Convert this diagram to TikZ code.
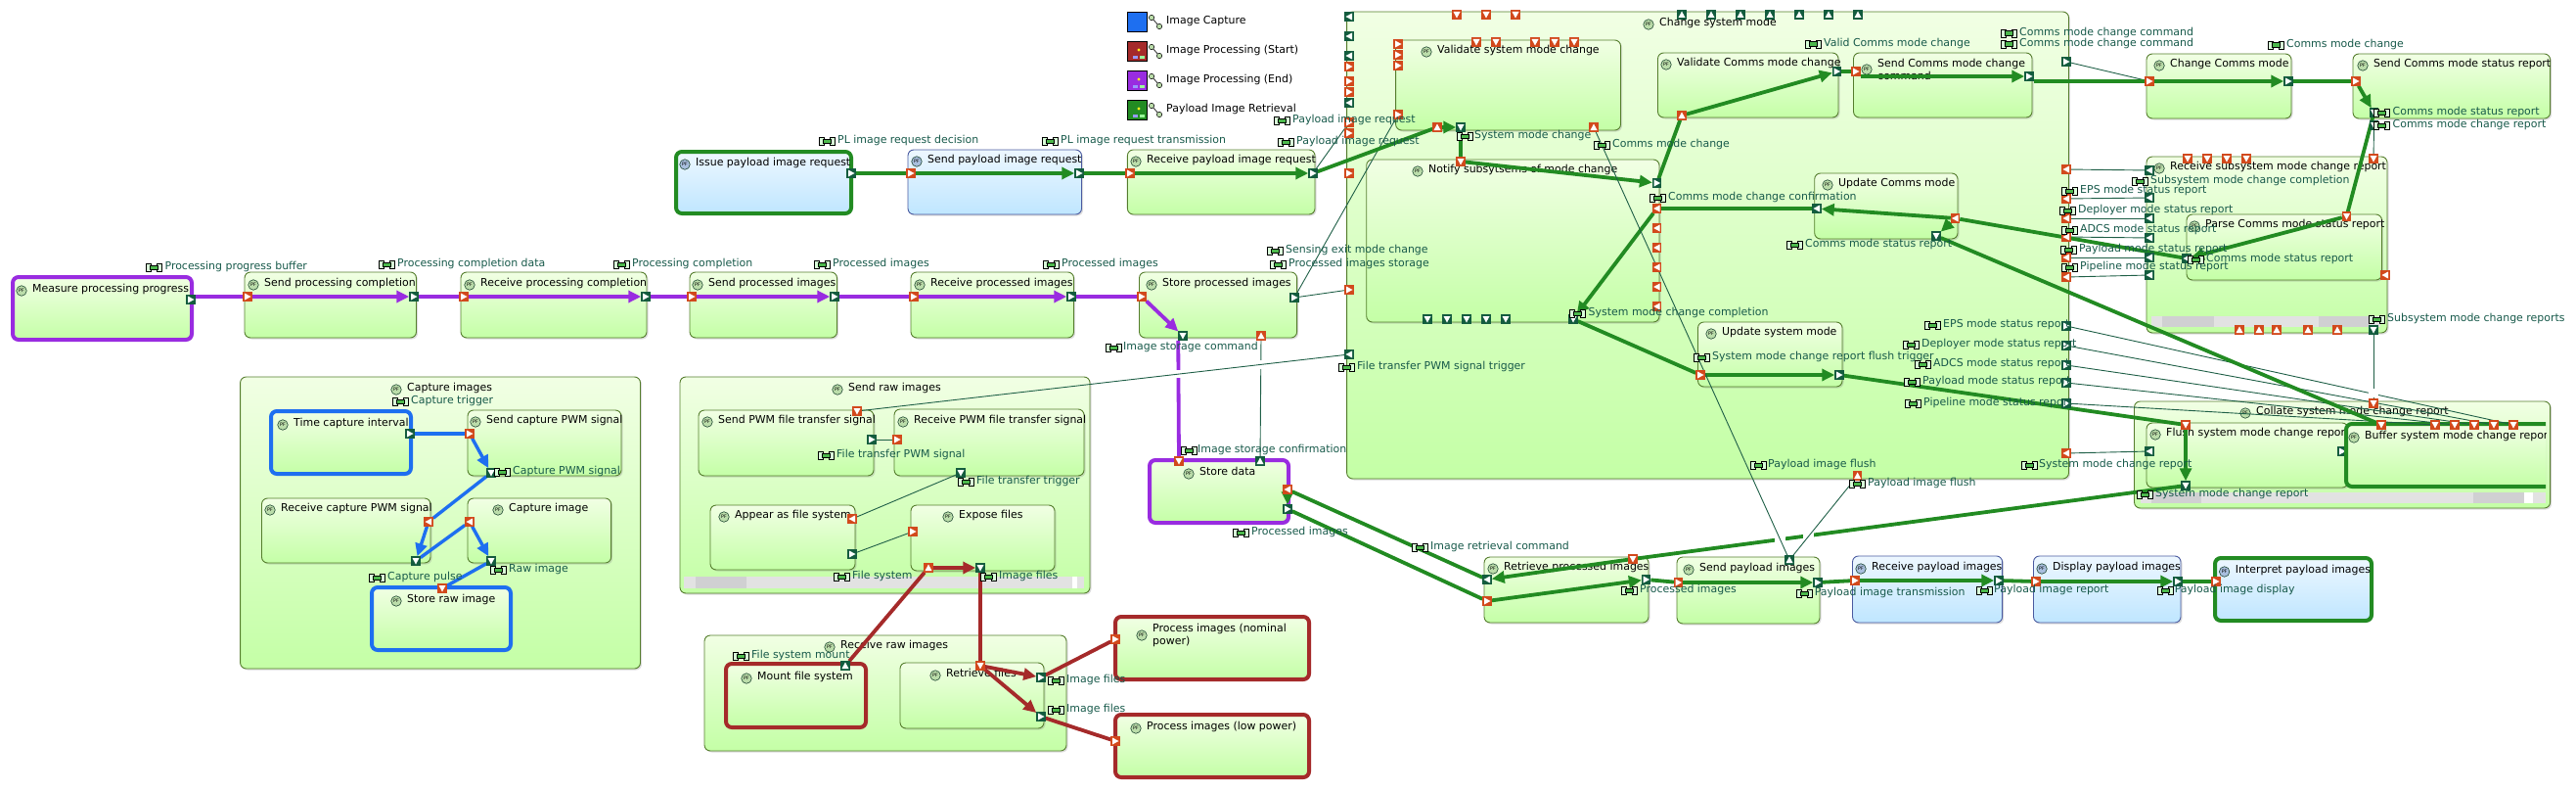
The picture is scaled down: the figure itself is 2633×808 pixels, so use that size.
\documentclass[tikz,border=0pt]{standalone}
\usepackage{fontspec}
\setmainfont{DejaVu Sans}
\usetikzlibrary{arrows.meta,shadows}
\definecolor{purp}{HTML}{992CE0}
\definecolor{grn}{HTML}{228B22}
\definecolor{rd}{HTML}{A52A2A}
\definecolor{blu}{HTML}{1E6FF0}
\definecolor{pO}{HTML}{D2491C}
\definecolor{pG}{HTML}{135C3E}
\definecolor{thin}{HTML}{1F5F47}
\definecolor{lbl}{HTML}{17594A}
\definecolor{pfg}{HTML}{BBDDAA}
\definecolor{pfb}{HTML}{A8BEDD}
\definecolor{edgeg}{HTML}{557D2D}
\definecolor{edgeb}{HTML}{4A5AA0}
\definecolor{gtop}{HTML}{F1FFE4}
\definecolor{gbot}{HTML}{C4FFA6}
\definecolor{btop}{HTML}{EDF7FF}
\definecolor{bbot}{HTML}{BFE6FF}
\definecolor{sbar}{HTML}{E2E2E2}
\definecolor{sthumb}{HTML}{D0D0D2}
\pgfdeclarelayer{lines}
\pgfdeclarelayer{top}
\pgfsetlayers{main,lines,top}
\newcounter{lbc}
\newcommand\fnt{\fontsize{10.95}{13}\selectfont}
\tikzset{
 base/.style={rectangle,rounded corners=6pt,inner sep=0pt,outer sep=0pt,line width=0.9pt,
   drop shadow={opacity=.28,shadow xshift=1.5pt,shadow yshift=-1.5pt}},
 gbox/.style={base,draw=edgeg,top color=gtop,bottom color=gbot},
 bbox/.style={base,draw=edgeb,top color=btop,bottom color=bbot},
 ttl/.style={inner sep=0pt,anchor=west,font=\fnt,text=black,text height=8pt,text depth=2.5pt},
 lab/.style={inner sep=0pt,anchor=west,font=\fnt,text=lbl,text height=8pt,text depth=2.5pt},
 pfc/.style={circle,draw={rgb,255:red,30;green,70;blue,50},line width=.6pt,minimum size=10.5pt,inner sep=0pt,
   font=\fontsize{4.8}{5}\selectfont,text=black},
 portbox/.style={rectangle,minimum size=9.5pt,inner sep=0pt,outer sep=0pt},
 thinl/.style={draw=thin,line width=.9pt},
 gl/.style={draw=grn,line width=3.8pt},
 pl/.style={draw=purp,line width=3.8pt},
 rl/.style={draw=rd,line width=3.8pt},
 bl/.style={draw=blu,line width=3.4pt},
 ah/.style={-{Triangle[length=13pt,width=12pt]}},
 scrollbar/.style={fill=sbar,draw=none},
 scrollthumb/.style={fill=sthumb,draw=none},
}
\def\pffill{pfg}
\newcommand\bx[9]{%
 \node[#2,minimum width={(#5-#3)*1pt},minimum height={(#6-#4)*1pt}] (#1) at ({(#3+#5)/2},{(#4+#6)/2}) {};
 \node[pfc,fill=\pffill] (#1-pf) at (#7,#8) {PF};
 \node[ttl] (#1-t) at (#7+11,#8-1) {#9};}
\newcommand\bxb[9]{\def\pffill{pfb}\bx{#1}{#2}{#3}{#4}{#5}{#6}{#7}{#8}{#9}\def\pffill{pfg}}
\newcommand\triR[2]{\fill[white] (#1-3,#2-3.5) -- (#1+3.5,#2) -- (#1-3,#2+3.5) -- cycle;}
\newcommand\triL[2]{\fill[white] (#1+3,#2-3.5) -- (#1-3.5,#2) -- (#1+3,#2+3.5) -- cycle;}
\newcommand\triD[2]{\fill[white] (#1-3.5,#2-3) -- (#1+3.5,#2-3) -- (#1,#2+3.5) -- cycle;}
\newcommand\triU[2]{\fill[white] (#1-3.5,#2+3) -- (#1+3.5,#2+3) -- (#1,#2-3.5) -- cycle;}
\newcommand\pt[5]{\node[portbox,fill=#4] (#1) at (#2,#3) {}; \csname tri#5\endcsname{#2}{#3}}
\newcommand\lb[4]{\stepcounter{lbc}%
 \filldraw[draw=black,fill=green!15!white,line width=.8pt] (#1,#3-4) rectangle (#1+5,#3+4);
 \filldraw[draw=black,fill=green!15!white,line width=.8pt] (#1+11,#3-4) rectangle (#1+16,#3+4);
 \filldraw[draw=black,fill=green!60!black!70,line width=.6pt] (#1+4,#3-2.2) rectangle (#1+12,#3+2.2);
 \node[lab] (lb\thelbc) at (#2,#3) {#4};}
\newcommand\legendrow[5]{%
 \node[rectangle,draw=black,line width=.8pt,fill=#3,minimum width=20pt,minimum height=20pt,inner sep=0pt] (#1) at (1162,#2) {};
 #5
 \draw[black,line width=.6pt] (1177,#2-4) -- (1185,#2+5);
 \filldraw[draw=black,fill=pfg,line width=.5pt] (1177,#2-4) circle (2.7pt);
 \filldraw[draw=black,fill=pfg,line width=.5pt] (1185,#2+5) circle (2.7pt);
 \node[ttl] (#1-t) at (1192,#2) {#4};}
\newcommand\glyph[1]{%
 \fill[yellow!90!white] (1164,#1-1) circle (1.6pt);
 \fill[white!60!blue] (1158,#1+5) rectangle (1163,#1+8);
 \fill[white!60!green] (1165,#1+5) rectangle (1170,#1+8);}
\begin{document}
\begin{tikzpicture}[x=1pt,y=-1pt]
\useasboundingbox (0,0) rectangle (2633,808);
% legend
\legendrow{lg1}{22}{blu}{Image Capture}{}
\legendrow{lg2}{52}{rd}{Image Processing (Start)}{\glyph{52}}
\legendrow{lg3}{82}{purp}{Image Processing (End)}{\glyph{82}}
\legendrow{lg4}{112}{grn}{Payload Image Retrieval}{\glyph{112}}
% top rows
\bx{measure}{gbox,draw=purp,line width=4pt}{13}{283}{196}{347}{22}{297}{Measure processing progress}
\bx{sendpc}{gbox}{250}{278}{425.5}{345}{259}{291}{Send processing completion}
\bx{recvpc}{gbox}{471}{278}{661}{345}{480}{291}{Receive processing completion}
\bx{sendpi}{gbox}{705}{278}{855.5}{345}{713}{291}{Send processed images}
\bx{recvpi}{gbox}{931}{278}{1097.5}{345}{940}{291}{Receive processed images}
\bx{storepi}{gbox}{1164.5}{278}{1325.6}{345}{1177}{291}{Store processed images}
\bxb{issue}{bbox,draw=grn,line width=4pt}{691}{155}{870}{218}{700}{168}{Issue payload image request}
\bxb{sendreq}{bbox}{928}{153}{1105.5}{219}{937}{165}{Send payload image request}
\bx{recvreq}{gbox}{1152.4}{153}{1344}{219}{1161}{165}{Receive payload image request}
% capture images
\bx{capture}{gbox}{245.6}{385}{654.5}{683}{405}{398}{Capture images}
\bx{timeci}{gbox,draw=blu,line width=4pt}{277}{420}{420}{484}{289}{434}{Time capture interval}
\bx{sendcap}{gbox}{478}{419}{635}{486}{486}{431}{Send capture PWM signal}
\bx{recvcap}{gbox}{267.5}{509}{440}{575}{276}{521}{Receive capture PWM signal}
\bx{capimg}{gbox}{478}{509}{624.6}{575}{509}{521}{Capture image}
\bx{storeraw}{gbox,draw=blu,line width=4pt}{380}{600}{522}{664}{405}{614}{Store raw image}
% send raw images
\bx{sendraw}{gbox}{695}{385}{1114}{606}{856}{398}{Send raw images}
\fill[scrollbar] (699,589) rectangle (1108,601);
\fill[scrollthumb] (711,589) rectangle (763,601);
\fill[white] (1096,589) rectangle (1101,601);
\bx{sendpwm}{gbox}{714}{419}{893}{486}{723}{431}{Send PWM file transfer signal}
\bx{recvpwm}{gbox}{914}{418}{1108}{486}{923}{431}{Receive PWM file transfer signal}
\bx{appear}{gbox}{726}{516}{874}{582}{740}{528}{Appear as file system}
\bx{expose}{gbox}{931}{516}{1078}{583}{969}{528}{Expose files}
% receive raw images
\bx{recvraw}{gbox}{720}{649}{1090}{767}{848}{661}{Receive raw images}
\bx{mount}{gbox,draw=rd,line width=4pt}{742}{678}{885}{743}{763}{693}{Mount file system}
\bx{retrieve}{gbox}{920}{677}{1067}{744}{956}{690}{Retrieve files}
\bx{pnom}{gbox,draw=rd,line width=4pt}{1140}{630}{1338}{694}{1167}{649}{}
\node[ttl,text height=,text depth=,align=left] (pnom-txt) at (1178,649) {Process images (nominal\\power)};
\bx{plow}{gbox,draw=rd,line width=4pt}{1140}{730}{1338}{794}{1161}{744}{Process images (low power)}
% store data
\bx{storedata}{gbox,draw=purp,line width=4pt}{1175}{470}{1317}{534}{1215}{484}{Store data}
% change system mode
\bx{csm}{gbox}{1376.6}{12}{2114.5}{489}{1685}{25}{Change system mode}
\bx{valsys}{gbox}{1426.6}{41}{1656.5}{133}{1458}{53}{Validate system mode change}
\bx{notify}{gbox}{1396.7}{163}{1696}{329}{1449}{175}{Notify subsytsems of mode change}
\bx{valcom}{gbox}{1694.5}{54}{1879}{120}{1703}{66}{Validate Comms mode change}
\bx{sendcom}{gbox}{1894.5}{54}{2077}{120}{1908}{71}{}
\node[ttl,text height=,text depth=,align=left] (sendcom-txt) at (1919,70.5) {Send Comms mode change\\command};
\bx{updcom}{gbox}{1854.7}{177}{2001}{244}{1868}{189}{Update Comms mode}
\bx{updsys}{gbox}{1735.5}{329}{1883}{395}{1749}{341}{Update system mode}
% comms
\bx{chgcom}{gbox}{2194}{55}{2342}{121}{2207}{67}{Change Comms mode}
\bx{sendstat}{gbox}{2405}{55}{2606.6}{121}{2415}{67}{Send Comms mode status report}
\bx{recvsub}{gbox}{2194}{160}{2440}{340}{2207}{172}{Receive subsystem mode change report}
\fill[scrollbar] (2199,323) rectangle (2433,334);
\fill[scrollthumb] (2210,323) rectangle (2263,334);
\fill[scrollthumb] (2370,323) rectangle (2422,334);
\bx{parse}{gbox}{2235}{219}{2434.5}{286}{2243}{231}{Parse Comms mode status report}
% collate
\bx{collate}{gbox}{2181.5}{410}{2606.6}{519}{2295}{422}{Collate system mode change report}
\fill[scrollbar] (2187.5,503) rectangle (2601.6,514);
\fill[scrollthumb] (2199,503) rectangle (2250,514);
\fill[scrollthumb] (2528,503) rectangle (2580,514);
\fill[white] (2580,503) rectangle (2589,514);
\bx{flush}{gbox}{2194}{432}{2400}{498}{2203}{444}{Flush system mode change report}
\pt{flr}{2394}{461}{pG}{R}
\begin{scope}
\clip (2380,425) rectangle (2602,505);
\bx{buffer}{gbox,draw=grn,line width=4pt}{2398}{433}{2640}{497}{2406}{447}{Buffer system mode change report}
\end{scope}
% bottom chain
\bx{retrpi}{gbox}{1517}{569}{1685}{636}{1526}{581}{Retrieve processed images}
\bx{sendpl}{gbox}{1714}{569}{1860}{637}{1726}{582}{Send payload images}
\bxb{recvpl}{bbox}{1893.5}{568}{2046.6}{636}{1902}{581}{Receive payload images}
\bxb{disppl}{bbox}{2078.5}{568}{2229}{636}{2087}{581}{Display payload images}
\bxb{intpl}{bbox,draw=grn,line width=4pt}{2264}{570}{2424}{634}{2273.6}{584}{Interpret payload images}

\begin{pgfonlayer}{top}
% ports: purple row
\pt{mo}{195}{306}{pG}{R}
\pt{spci}{253}{303}{pO}{R}\pt{spco}{423}{303}{pG}{R}
\pt{rpci}{474}{303}{pO}{R}\pt{rpco}{660}{303}{pG}{R}
\pt{spii}{707}{303}{pO}{R}\pt{spio}{853}{303}{pG}{R}
\pt{rpii}{934}{303}{pO}{R}\pt{rpio}{1095}{303}{pG}{R}
\pt{stpi}{1167}{303}{pO}{R}\pt{stpd}{1209}{343}{pG}{D}\pt{stpu}{1289}{343}{pO}{U}\pt{stpr}{1323}{304}{pG}{R}
% request row
\pt{isso}{870}{177}{pG}{R}
\pt{sri}{931}{177}{pO}{R}\pt{sro}{1103}{177}{pG}{R}
\pt{rri}{1155}{177}{pO}{R}\pt{rro}{1342}{177}{pG}{R}
% store data
\pt{sdi}{1205}{471}{pO}{D}\pt{sdu}{1288}{471}{pG}{U}\pt{sdl}{1316}{500}{pO}{L}\pt{sdr}{1316}{520}{pG}{R}
% capture
\pt{tco}{419}{443}{pG}{R}\pt{sci}{480}{443}{pO}{R}\pt{sco}{502}{483}{pG}{D}
\pt{rci}{438}{533}{pO}{L}\pt{rco}{425}{573}{pG}{D}
\pt{cii}{480}{533}{pO}{L}\pt{cio}{502}{573}{pG}{D}
\pt{sti}{452}{601}{pO}{D}
% send raw
\pt{spwd}{876}{420}{pO}{D}\pt{spwo}{891}{449}{pG}{R}\pt{rpwi}{917}{449}{pO}{R}\pt{rpwd}{982}{483}{pG}{D}
\pt{afl}{871}{530}{pO}{L}\pt{afr}{871}{566}{pG}{R}\pt{efr}{933}{543}{pO}{R}\pt{efu}{949}{580}{pO}{U}\pt{efd}{1002}{580}{pG}{D}
% receive raw
\pt{mfu}{864}{680}{pG}{U}\pt{rfd}{1002}{680}{pO}{D}\pt{rfa}{1064}{692}{pG}{R}\pt{rfb}{1064}{732}{pG}{R}
\pt{pni}{1140}{653}{pO}{R}\pt{pli}{1140}{757}{pO}{R}
% bottom chain
\pt{rpl}{1520}{592}{pG}{L}\pt{rpr}{1520}{614}{pO}{R}\pt{rpd}{1669}{571}{pO}{D}\pt{rpo}{1682.6}{592}{pG}{R}
\pt{spli}{1715.6}{595}{pO}{R}\pt{splo}{1858}{595}{pG}{R}\pt{splu}{1829}{572}{pG}{U}
\pt{rpli}{1896}{593}{pO}{R}\pt{rplo}{2043}{593}{pG}{R}
\pt{dpi}{2081}{594}{pO}{R}\pt{dpo}{2226}{594}{pG}{R}\pt{ipi}{2265}{594}{pO}{R}
\pt{csmf}{1898.6}{486}{pO}{U}
% group left
\foreach \y [count=\i] in {17,37,57,105,362} {\pt{gl\i}{1379}{\y}{pG}{L}}
\foreach \y [count=\i] in {68,83,94,125,136,177,296} {\pt{go\i}{1379}{\y}{pO}{R}}
\foreach \x [count=\i] in {1489,1519,1549} {\pt{gt\i}{\x}{15}{pO}{D}}
\foreach \x [count=\i] in {1719,1749,1779,1809,1839,1869,1899} {\pt{gu\i}{\x}{15}{pG}{U}}
% group right
\foreach \y [count=\i] in {173,203,223,242,263,283,463} {\pt{gr\i}{2112}{\y}{pO}{L}}
\foreach \y [count=\i] in {63,333,353,373,391,412} {\pt{gs\i}{2112}{\y}{pG}{R}}
% validate system
\foreach \x [count=\i] in {1509,1529,1569,1589,1609} {\pt{vt\i}{\x}{43}{pO}{D}}
\foreach \y [count=\i] in {45,56,67,117} {\pt{vl\i}{1429}{\y}{pO}{R}}
\pt{vu}{1469}{130}{pO}{U}\pt{vd}{1493}{130}{pG}{D}\pt{vc}{1629}{130}{pO}{U}
% notify
\pt{nd}{1493}{165}{pO}{D}\pt{nr}{1693.6}{187}{pG}{R}
\foreach \y [count=\i] in {213,233,253,273,293,313} {\pt{nl\i}{1693.6}{\y}{pO}{L}}
\foreach \x [count=\i] in {1459,1479,1499,1519,1539,1608} {\pt{nb\i}{\x}{326}{pG}{D}}
% comms boxes
\pt{vcu}{1719}{118}{pO}{U}\pt{vco}{1877.5}{73}{pG}{R}
\pt{sci2}{1897}{73}{pO}{R}\pt{sco2}{2074}{78}{pG}{R}
\pt{ucl}{1857}{213}{pG}{L}\pt{ucr}{1998.5}{223}{pO}{L}\pt{ucd}{1979}{241}{pG}{D}
\pt{usi}{1738}{383}{pO}{R}\pt{uso}{1880}{383}{pG}{R}
\pt{cci}{2197}{83}{pO}{R}\pt{cco}{2339}{83}{pG}{R}
\pt{ssi}{2408}{83}{pO}{R}\pt{ssd}{2426.5}{115}{pG}{D}\pt{ssc}{2426.5}{128}{pG}{D}
% receive subsystem
\foreach \x [count=\i] in {2236,2256,2276,2296} {\pt{rt\i}{\x}{162}{pO}{D}}
\pt{rtr}{2426}{162}{pO}{D}
\foreach \y [count=\i] in {174,202,223,243,263,281} {\pt{rl\i}{2197}{\y}{pG}{L}}
\foreach \x [count=\i] in {2289,2309,2327,2359,2389} {\pt{rb\i}{\x}{337}{pO}{U}}
\pt{rbd}{2426}{337}{pG}{D}
\pt{pd}{2398.5}{221}{pO}{D}\pt{pl}{2235}{264}{pG}{L}\pt{pr}{2438}{281}{pO}{L}
% collate
\pt{cot}{2426}{412}{pO}{D}
\pt{fd}{2234}{434}{pO}{D}\pt{fb}{2234}{496}{pG}{D}\pt{fl}{2197}{461}{pG}{L}
\foreach \x [count=\i] in {2434,2489,2509,2529,2549,2569} {\pt{bt\i}{\x}{434}{pO}{D}}

% labels
\lb{149}{168.4}{273}{Processing progress buffer}
\lb{387}{406}{270}{Processing completion data}
\lb{627}{646}{270}{Processing completion}
\lb{832}{851}{270}{Processed images}
\lb{1066}{1085}{270}{Processed images}
\lb{1295}{1314}{256}{Sensing exit mode change}
\lb{1298}{1317}{270}{Processed images storage}
\lb{837}{856}{144}{PL image request decision}
\lb{1065}{1084}{144}{PL image request transmission}
\lb{1302}{1321}{123}{Payload image request}
\lb{1306}{1325}{145}{Payload image request}
\lb{1130}{1148}{355}{Image storage command}
\lb{1207.6}{1224}{460}{Image storage confirmation}
\lb{1260}{1279}{544}{Processed images}
\lb{1443}{1462}{559}{Image retrieval command}
\lb{401}{420}{410}{Capture trigger}
\lb{505}{524}{482}{Capture PWM signal}
\lb{377}{396}{590}{Capture pulse}
\lb{501}{520}{582}{Raw image}
\lb{836}{855}{465}{File transfer PWM signal}
\lb{979}{998}{492}{File transfer trigger}
\lb{852}{871}{589}{File system}
\lb{1002}{1021}{589}{Image files}
\lb{749}{768}{670}{File system mount}
\lb{1071}{1090}{695}{Image files}
\lb{1071}{1090}{725}{Image files}
\lb{1657.5}{1676}{603}{Processed images}
\lb{1836}{1854.6}{606}{Payload image transmission}
\lb{2020}{2038}{603}{Payload image report}
\lb{2205}{2222.6}{603}{Payload image display}
\lb{1789}{1807}{475}{Payload image flush}
\lb{1890}{1909}{494}{Payload image flush}
\lb{2066}{2084}{475}{System mode change report}
\lb{2184}{2203}{505}{System mode change report}
\lb{1489}{1507}{139}{System mode change}
\lb{1629}{1648}{148}{Comms mode change}
\lb{1686}{1705}{202}{Comms mode change confirmation}
\lb{1604}{1623.5}{320}{System mode change completion}
\lb{1845}{1864}{45}{Valid Comms mode change}
\lb{2045}{2064}{34}{Comms mode change command}
\lb{2045}{2064}{45}{Comms mode change command}
\lb{2318}{2337}{46}{Comms mode change}
\lb{2426.5}{2445.5}{115}{Comms mode status report}
\lb{2426.5}{2445.5}{128}{Comms mode change report}
\lb{2179}{2198}{185}{Subsystem mode change completion}
\lb{2421}{2440}{326}{Subsystem mode change reports}
\lb{2236}{2255}{265}{Comms mode status report}
\lb{2107}{2126}{195}{EPS mode status report}
\lb{2105}{2124}{215}{Deployer mode status report}
\lb{2107}{2126}{235}{ADCS mode status report}
\lb{2106}{2125}{255}{Payload mode status report}
\lb{2107}{2126}{273}{Pipeline mode status report}
\lb{1826.6}{1845}{250}{Comms mode status report}
\lb{1731.5}{1750}{365}{System mode change report flush trigger}
\lb{1967}{1986}{332}{EPS mode status report}
\lb{1945}{1964}{352}{Deployer mode status report}
\lb{1957}{1976}{372}{ADCS mode status report}
\lb{1946}{1965}{390}{Payload mode status report}
\lb{1947.6}{1966}{412}{Pipeline mode status report}
\lb{1368.6}{1387}{375}{File transfer PWM signal trigger}
\end{pgfonlayer}

\begin{pgfonlayer}{lines}
% thin connectors
\draw[thinl] (rro) -- (go4);
\draw[thinl] (stpr) -- (vl4);
\draw[thinl] (stpr) -- (go7);
\draw[thinl] (gs1) -- (cci);
\foreach \i in {1,...,6} {\draw[thinl] (gr\i) -- (rl\i);}
\draw[thinl] (gr7) -- (fl);
\draw[thinl] (ssc) -- (rtr);
\draw[thinl] (gs2) -- (bt6);
\draw[thinl] (gs3) -- (bt5);
\draw[thinl] (gs4) -- (bt4);
\draw[thinl] (gs5) -- (bt3);
\draw[thinl] (gs6) -- (bt2);
\draw[thinl] (spwo) -- (rpwi);
\draw[thinl] (rpwd) -- (afl);
\draw[thinl] (afr) -- (efr);
\draw[thinl] (stpu) -- (sdu);
\draw[thinl] (rbd) -- (cot);
\fill[white] (2421,397) rectangle (2431,406);
\fill[white] (1285,368) rectangle (1293,377);
% purple
\draw[pl] (mo.east |- spci) -- (spci);
\draw[pl,ah] (spci) -- (spco);
\draw[pl] (spco) -- (rpci);
\draw[pl,ah] (rpci) -- (rpco);
\draw[pl] (rpco) -- (spii);
\draw[pl,ah] (spii) -- (spio);
\draw[pl] (spio) -- (rpii);
\draw[pl,ah] (rpii) -- (rpio);
\draw[pl] (rpio) -- (stpi);
\draw[pl,ah] (stpi) -- (stpd);
\draw[pl] (stpd.south west) -- (sdi);
\fill[white] (1200,378) rectangle (1210,386);
% blue
\draw[bl] (tco) -- (sci);
\draw[bl,ah] (sci) -- (sco);
\draw[bl] (sco) -- (rci);
\draw[bl,ah] (rci) -- (rco);
\draw[bl] (rco) -- (cii);
\draw[bl,ah] (cii) -- (cio);
\draw[bl] (cio) -- (sti);
% red
\draw[rl] (mfu) -- (efu);
\draw[rl,ah] (efu) -- (efd);
\draw[rl] (efd) -- (rfd);
\draw[rl,ah] (rfd) -- (rfa);
\draw[rl,ah] (rfd) -- (rfb);
\draw[rl] (rfa) -- (pni);
\draw[rl] (rfb) -- (pli);
% green
\draw[gl] (isso) -- (sri);
\draw[gl,ah] (sri) -- (sro);
\draw[gl] (sro) -- (rri);
\draw[gl,ah] (rri) -- (rro);
\draw[gl] (rro) -- (vu);
\draw[gl,ah] (vu) -- (vd);
\draw[gl] (vd) -- (nd);
\draw[gl,ah] (nd) -- (nr);
\draw[gl] (nr) -- (vcu);
\draw[gl,ah] (vcu) -- (vco);
\draw[gl] (vco) -- (sci2);
\draw[gl,ah] (sci2.east |- sco2) -- (sco2);
\draw[gl] (sco2.east |- cci) -- (cci);
\draw[gl,ah] (cci) -- (cco);
\draw[gl] (cco) -- (ssi);
\draw[gl,ah] (ssi) -- (ssd);
\draw[gl] (ssd) -- (pd);
\draw[gl,ah] (pd) -- (pl);
\draw[gl] (pl) -- (ucr);
\draw[gl,ah] (ucr) -- (ucl);
\draw[gl,ah] (ucr) -- (ucd);
\draw[gl] (ucd) -- (bt1);
\draw[gl] (ucl) -- (nl1);
\draw[gl,ah] (nl1) -- (nb6);
\draw[gl] (nb6) -- (usi);
\draw[gl,ah] (usi) -- (uso);
\draw[gl] (uso) -- (fd);
\draw[gl,ah] (fd) -- (fb);
\draw[gl] (fb) -- (rpd);
\draw[gl,ah] (rpd) -- (rpl);
\draw[gl] (rpl) -- (sdl);
\draw[gl,ah] (sdl) -- (sdr);
\draw[gl] (sdr) -- (rpr);
\draw[gl,ah] (rpr) -- (rpo);
\draw[gl] (rpo) -- (spli);
\draw[gl,ah] (spli) -- (splo);
\draw[gl] (splo) -- (rpli);
\draw[gl,ah] (rpli) -- (rplo);
\draw[gl] (rplo) -- (dpi);
\draw[gl,ah] (dpi) -- (dpo);
\draw[gl] (dpo) -- (ipi);
% gaps where thin lines cross
\fill[white] (1814,546) rectangle (1825,556);
\fill[white] (1843,542) rectangle (1854,552);
% thin lines that cross over
\draw[thinl] (spwd) -- (gl5);
\draw[thinl] (vc) -- (splu);
\draw[thinl] (csmf) -- (splu);
\end{pgfonlayer}
\end{tikzpicture}
\end{document}
